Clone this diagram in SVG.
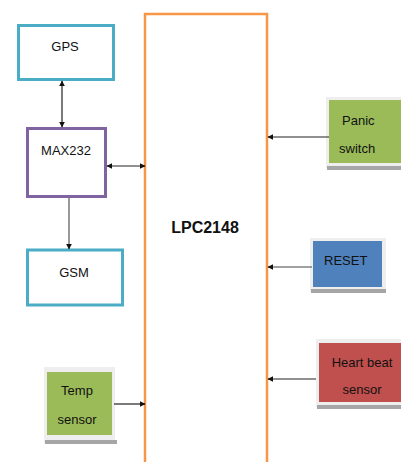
<svg xmlns="http://www.w3.org/2000/svg" width="401" height="462" viewBox="0 0 401 462">
<style>
text{font-family:"Liberation Sans",Arial,sans-serif;font-size:13px;fill:#111;}
.c{text-anchor:middle;}
.box{fill:#fff;stroke-width:3;}
.cyan{stroke:#4bacc6;}
.purple{stroke:#8064a2;}
.shadow{fill:#a6a6a6;}
.frame{fill:#eeeeee;}
.conn{stroke:#222;stroke-width:1.2;fill:none;}
</style>
<defs>
<marker id="ah" viewBox="0 0 10 10" refX="9" refY="5" markerWidth="6" markerHeight="6" orient="auto-start-reverse" markerUnits="userSpaceOnUse">
<path d="M0,0 L10,5 L0,10 z" fill="#111"/>
</marker>
</defs>
<g id="lpc2148">
<path d="M145,462 V14 H267 V462" fill="none" stroke="#f79646" stroke-width="2.5"/>
<text x="205" y="233" class="c" style="font-weight:bold;font-size:16px">LPC2148</text>
</g>
<g id="gps">
<rect x="18.5" y="25.5" width="95" height="54" class="box cyan"/>
<text x="65" y="51" class="c">GPS</text>
</g>
<g id="max232">
<rect x="27.5" y="128.5" width="78" height="68" class="box purple"/>
<text x="66" y="155" class="c">MAX232</text>
</g>
<g id="gsm">
<rect x="27.5" y="250" width="95" height="55" class="box cyan"/>
<text x="74" y="277" class="c">GSM</text>
</g>
<g id="temp">
<rect x="44" y="367" width="71" height="76" class="frame"/>
<rect x="45" y="440" width="72" height="4" class="shadow"/>
<rect x="47" y="372" width="65" height="63" fill="#9bbb59"/>
<text x="77" y="395" class="c">Temp</text>
<text x="77" y="424" class="c">sensor</text>
</g>
<g id="panic">
<rect x="326" y="97" width="75" height="71" class="frame"/>
<rect x="327" y="166" width="74" height="4" class="shadow"/>
<rect x="329" y="100" width="72" height="63" fill="#9bbb59"/>
<text x="342" y="125">Panic</text>
<text x="339" y="153">switch</text>
</g>
<g id="reset">
<rect x="310" y="238" width="76" height="54" class="frame"/>
<rect x="311" y="289" width="75" height="4" class="shadow"/>
<rect x="313" y="241" width="69" height="46" fill="#4f81bd"/>
<text x="324" y="265">RESET</text>
</g>
<g id="heartbeat">
<rect x="316" y="339" width="85" height="68" class="frame"/>
<rect x="317" y="405" width="84" height="4" class="shadow"/>
<rect x="319" y="343" width="82" height="59" fill="#c0504d"/>
<text x="362" y="367" class="c">Heart beat</text>
<text x="362" y="394" class="c">sensor</text>
</g>
<g id="connectors">
<line x1="62" y1="81" x2="62" y2="127" class="conn" marker-start="url(#ah)" marker-end="url(#ah)"/>
<line x1="107" y1="166" x2="145" y2="166" class="conn" marker-start="url(#ah)" marker-end="url(#ah)"/>
<line x1="69" y1="198" x2="69" y2="249" class="conn" style="stroke:#555" marker-end="url(#ah)"/>
<line x1="114" y1="404" x2="145" y2="404" class="conn" marker-end="url(#ah)"/>
<line x1="329" y1="137" x2="268" y2="137" class="conn" marker-end="url(#ah)"/>
<line x1="312" y1="267" x2="268" y2="267" class="conn" style="stroke:#444" marker-end="url(#ah)"/>
<line x1="316" y1="379" x2="268" y2="379" class="conn" marker-end="url(#ah)"/>
</g>
</svg>
